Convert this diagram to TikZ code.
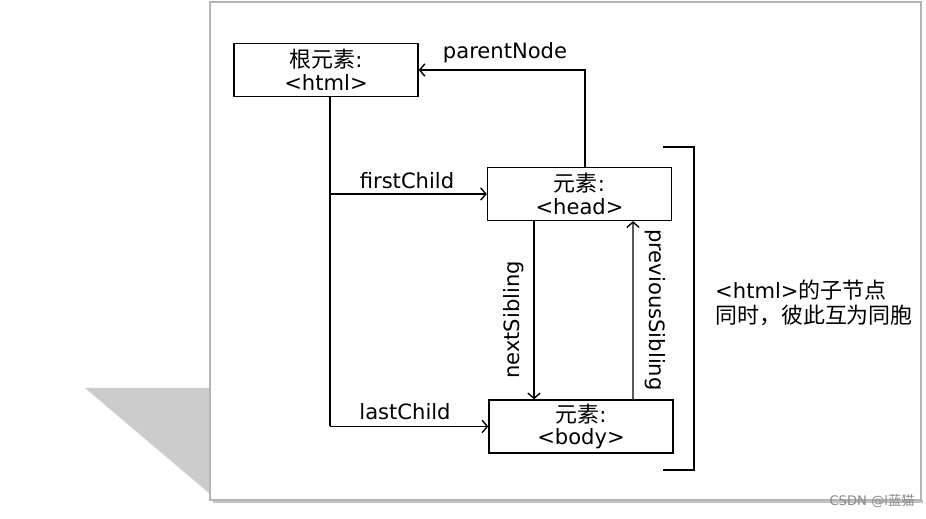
\documentclass[tikz,border=0pt]{standalone}
\usepackage{fontspec}
\setmainfont{DejaVu Sans}
\newfontfamily\cjk{Noto Sans CJK SC}
\usetikzlibrary{arrows.meta,calc}
\definecolor{Frame}{HTML}{B4B4B4}
\definecolor{Shade}{HTML}{CCCCCC}
\definecolor{Mark}{HTML}{8A8A8A}
\newcommand{\zh}[1]{{\cjk\fontsize{12.5}{13}\selectfont #1}}

\begin{document}
\begin{tikzpicture}[x=0.02cm,y=-0.02cm,
    elem/.style={draw,line width=0.8pt,minimum width=3.68cm,minimum height=1.06cm,
                 align=center,inner sep=0pt,font=\fontsize{12}{13}\selectfont},
    link/.style={line width=0.8pt,-{Straight Barb[length=3pt,width=7pt]}},
    lbl/.style={font=\fontsize{12}{13}\selectfont,inner sep=1pt}]
  \useasboundingbox (0,0) rectangle (926,519);
  % shadow and page
  \fill[Shade] (85,388) -- (210,388) -- (210,494) -- cycle;
  \fill[Frame!80] (213,500) rectangle (923,503);
  \filldraw[fill=white,draw=Frame,line width=0.8pt] (210,2) rectangle (921,500);

  \node[elem] (html) at (326,70) {\zh{根元素}:\\<html>};
  \node[elem] (head) at (579.5,194) {\zh{元素}:\\<head>};
  \node[elem] (body) at (581,426.5) {\zh{元素}:\\<body>};

  % parent link
  \draw[link] ($(head.north)+(5.5,0)$) |- (html.east);
  \node[lbl] (lblparent) at (505,53) {parentNode};

  % children
  \coordinate (trunk) at ($(html.south)+(4,0)$);
  \draw[line width=0.8pt] (trunk) -- (trunk |- body.west);
  \draw[link] (trunk |- head.west) -- (head.west);
  \draw[link] (trunk |- body.west) -- (body.west);
  \node[lbl] (lblfirst) at (407,181) {firstChild};
  \node[lbl] (lbllast) at (405,412) {lastChild};

  % siblings
  \draw[link] ($(head.south)+(-45.5,0)$) -- ($(body.north)+(-47,0)$);
  \draw[link] ($(body.north)+(52,0)$) -- ($(head.south)+(53.5,0)$);
  \node[lbl,rotate=90] (lblnext) at (514,320) {nextSibling};
  \node[lbl,rotate=-90] (lblprev) at (655,310) {previousSibling};

  % bracket + note
  \draw[line width=0.8pt] (663,147) -| (694,470) -- (663,470);
  \node[anchor=west,align=left,font=\fontsize{12}{14.5}\selectfont] (note) at (709,303)
    {<html>\zh{的子节点}\\\zh{同时，彼此互为同胞}};

  \node[text=Mark,font=\fontsize{7.5}{9}\selectfont] (mark) at (872,501)
    {CSDN @l{\cjk 蓝猫}};
\end{tikzpicture}
\end{document}
